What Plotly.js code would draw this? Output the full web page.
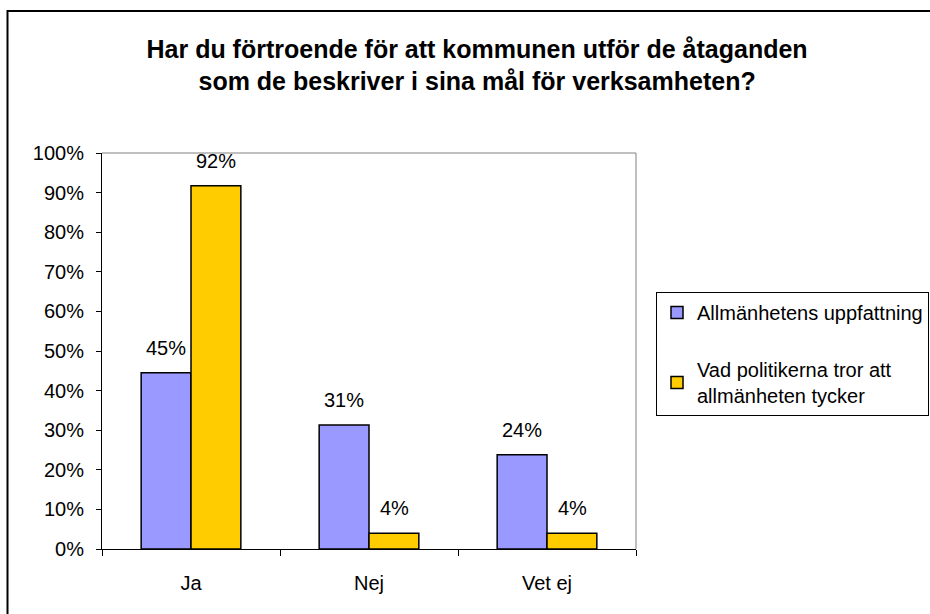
<!DOCTYPE html>
<html>
<head>
<meta charset="utf-8">
<script src="https://cdn.plot.ly/plotly-3.0.1.min.js"></script>
<style>
  body { margin: 0; background: #fff; }
  #chart { width: 930px; height: 614px; }
</style>
</head>
<body>
<div id="chart"></div>
<script>
// data
var categories = ['Ja', 'Nej', 'Vet ej'];
var allmanheten = [0.445, 0.313, 0.238];
var politikerna = [0.917, 0.04, 0.04];
var allmanhetenLabels = ['45%', '31%', '24%'];
var politikernaLabels = ['92%', '4%', '4%'];
var yTicks = [0, 0.1, 0.2, 0.3, 0.4, 0.5, 0.6, 0.7, 0.8, 0.9, 1];

var FONT = 'Liberation Sans, Arial, sans-serif';
var FS = 20;

var trace1 = {
  x: categories,
  y: allmanheten,
  name: 'Allmänhetens uppfattning',
  type: 'bar',
  legendgroup: 'a',
  hoverinfo: 'x+y',
  marker: {color: '#9999FF', line: {color: '#000', width: 1.5}}
};

var trace2 = {
  x: categories,
  y: politikerna,
  name: 'Vad politikerna tror att<br>allmänheten tycker',
  type: 'bar',
  legendgroup: 'b',
  hoverinfo: 'x+y',
  marker: {color: '#FFCC00', line: {color: '#000', width: 1.5}}
};

var data = [trace1, trace2];

// value labels sit a bit above each bar, as in Excel
var labels = [];
function addLabels(vals, txt, shift) {
  for (var i = 0; i < categories.length; i++) {
    labels.push({
      x: categories[i], y: vals[i], xref: 'x', yref: 'y',
      text: txt[i], showarrow: false,
      xshift: shift, yshift: 12, yanchor: 'bottom',
      font: {family: FONT, size: FS, color: '#000'}
    });
  }
}
addLabels(allmanheten, allmanhetenLabels, -25);
addLabels(politikerna, politikernaLabels, 25);

// plot-area edges in pixels, used to place the frame and legend
var L = 102, R = 636, T = 153, B = 549;
function px(x) { return (x - L) / (R - L); }
function py(y) { return (B - y) / (B - T); }

var layout = {
  width: 930,
  height: 614,
  margin: {l: L, r: 930 - R, t: T, b: 614 - B, autoexpand: false},
  paper_bgcolor: '#fff',
  plot_bgcolor: '#fff',
  font: {family: FONT, size: FS, color: '#000'},
  title: {
    text: '<b>Har du förtroende för att kommunen utför de åtaganden<br>som de beskriver i sina mål för verksamheten?</b>',
    font: {family: FONT, size: 25, color: '#000'},
    x: 0.513,
    xanchor: 'center',
    y: 0.906,
    yref: 'container',
    yanchor: 'middle'
  },
  barmode: 'group',
  bargap: 0.44,
  bargroupgap: 0,
  showlegend: true,
  legend: {
    x: px(656),
    y: py(292),
    xanchor: 'left',
    yanchor: 'top',
    bordercolor: '#000',
    borderwidth: 1,
    bgcolor: '#fff',
    tracegroupgap: 28,
    font: {family: FONT, size: FS, color: '#000'}
  },
  annotations: labels,
  xaxis: {
    type: 'category',
    showline: true,
    linecolor: '#000',
    linewidth: 1,
    ticks: 'outside',
    tickson: 'boundaries',
    ticklen: 6,
    tickcolor: '#000',
    ticklabelstandoff: 16,
    showgrid: false,
    zeroline: false,
    fixedrange: true,
    tickfont: {family: FONT, size: FS}
  },
  yaxis: {
    range: [0, 1],
    tickvals: yTicks,
    tickformat: '.0%',
    showline: true,
    linecolor: '#000',
    linewidth: 1,
    ticks: 'outside',
    ticklen: 5,
    tickcolor: '#000',
    ticklabelstandoff: 8,
    showgrid: false,
    zeroline: false,
    fixedrange: true,
    tickfont: {family: FONT, size: FS}
  },
  shapes: [
    // gray plot-area border (top and right)
    {type: 'line', xref: 'paper', yref: 'paper', x0: 0, x1: 1, y0: 1, y1: 1,
     line: {color: '#808080', width: 1}, layer: 'below'},
    {type: 'line', xref: 'paper', yref: 'paper', x0: 1, x1: 1, y0: 0, y1: 1,
     line: {color: '#808080', width: 1}, layer: 'below'},
    // outer chart frame
    {type: 'rect', xref: 'paper', yref: 'paper',
     x0: px(7.5), x1: px(945), y0: py(620), y1: py(11),
     line: {color: '#000', width: 2}, fillcolor: 'rgba(0,0,0,0)'}
  ]
};

Plotly.newPlot('chart', data, layout, {displayModeBar: false, staticPlot: true});
</script>
</body>
</html>
